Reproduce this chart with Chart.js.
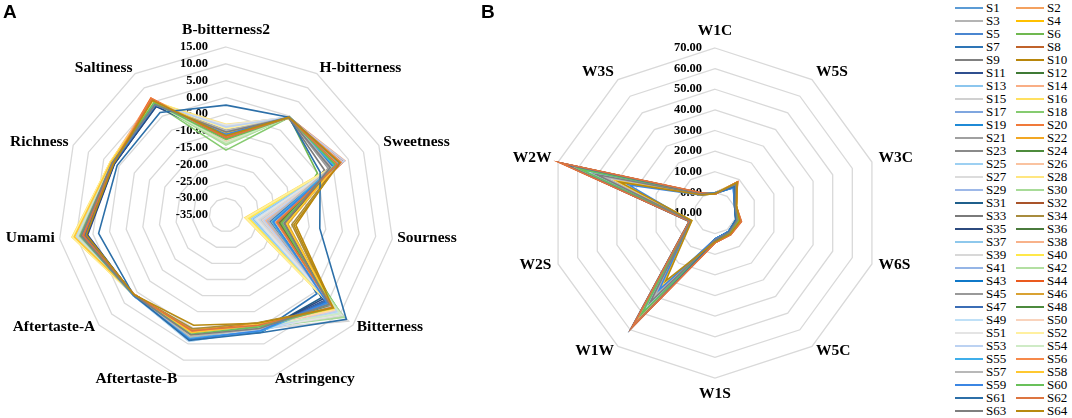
<!DOCTYPE html>
<html>
<head>
<meta charset="utf-8">
<script src="https://cdn.jsdelivr.net/npm/chart.js@4.4.1/dist/chart.umd.min.js"></script>
<style>
  html, body { margin: 0; padding: 0; background: #fff; }
  #wrap { position: relative; width: 1072px; height: 418px; overflow: hidden; }
  canvas { position: absolute; top: 0; }
  .panel { position: absolute; font: bold 19px "Liberation Sans", Arial, sans-serif; color: #000; }
  .item { position: absolute; height: 14px; display: flex; align-items: center;
          font: 13px "Liberation Serif", "Times New Roman", serif; color: #000; }
  .item span.ln { display: inline-block; width: 28px; height: 2px; margin-right: 3px; }
</style>
</head>
<body>
<div id="wrap">
  <canvas id="chartA" width="470" height="418" style="left:0"></canvas>
  <canvas id="chartB" width="480" height="418" style="left:470px"></canvas>
  <div class="panel" style="left:3px; top:1px">A</div>
  <div class="panel" style="left:481px; top:1px">B</div>
  <div id="legend"></div>
</div>
<script>
// ---- data ----
const categoriesA = ['B-bitterness2', 'H-bitterness', 'Sweetness', 'Sourness', 'Bitterness', 'Astringency',
  'Aftertaste-B', 'Aftertaste-A', 'Umami', 'Richness', 'Saltiness'];
const categoriesB = ['W1C', 'W5S', 'W3C', 'W6S', 'W5C', 'W1S', 'W1W', 'W2S', 'W2W', 'W3S'];
const ticksA = [-35, 15, 5];   // min, max, step
const ticksB = [-10, 70, 10];

const seriesNames = [];
for (let i = 1; i <= 64; i++) seriesNames.push('S' + i);

const seriesColors = [
  '#5B9BD5', '#F4A15F', '#B4B4B4', '#FFC000', '#4A86D0', '#70B850', '#2E75B6', '#C0632B',
  '#808080', '#B8860B', '#2F4F8F', '#3F7A35', '#8CC6EE', '#F9AE85', '#D0D0D0', '#FFE060',
  '#7FA6DF', '#86CB70', '#1F8AD6', '#F07A3A', '#A0A0A0', '#F2A724', '#8A8A8A', '#4D8B3C',
  '#9DD0F2', '#FAC3A0', '#DCDCDC', '#FFE680', '#9DB8E8', '#A8DB98', '#1F5F8B', '#A9542A',
  '#7A7A7A', '#A88C3E', '#2C4A7E', '#4A7A3C', '#8EC8EC', '#F8B28A', '#D8D8D8', '#FFE84A',
  '#95B5E6', '#B3DFA2', '#0F78C8', '#EA5A1E', '#999999', '#D9A233', '#3B6DB5', '#4C8A3E',
  '#BFE0F7', '#F9D3BC', '#E4E4E4', '#FFF0A0', '#BCD2F2', '#CFEBC6', '#3FAEEA', '#F6894A',
  '#B8B8B8', '#FFC830', '#3B86E3', '#69C05A', '#2C6FA8', '#DD7540', '#7F7F7F', '#B88A10'
];

// panel A, one array per taste axis, S1..S64
const aBBitterness2 = [-10.2, -11.5, -9.8, -10.6, -11.0, -12.3, -10.9, -11.8, -9.5, -10.1,
  -12.0, -11.2, -9.9, -13.2, -8.6, -8.9, -11.4, -15.7, -10.5, -12.6,
  -9.2, -10.8, -11.7, -12.1, -8.3, -13.5, -9.1, -8.0, -10.3, -14.2,
  -11.9, -12.8, -10.7, -11.1, -12.4, -11.6, -9.6, -13.0, -8.5, -9.4,
  -10.0, -13.8, -10.4, -12.2, -9.7, -11.3, -10.6, -12.7, -9.0, -12.9,
  -8.2, -9.3, -8.8, -13.4, -10.1, -11.9, -9.9, -10.7, -11.0, -12.5,
  -2.3, -12.0, -10.3, -11.4];
const aHBitterness = [-0.4, -0.6, -0.3, -0.5, -0.7, -0.2, -0.5, -0.6, -0.4, -0.8,
  -0.5, -0.3, -0.6, -0.4, -0.5, -0.7, -0.3, -0.6, -0.5, -0.4,
  -0.2, -0.6, -0.5, -0.7, -0.4, -0.3, -0.5, -0.6, -0.4, -0.2,
  -0.5, -0.7, -0.6, -0.4, -0.5, -0.3, -0.6, -0.5, -0.4, -0.7,
  -0.3, -0.5, -0.6, -0.4, -0.5, -0.8, -0.4, -0.3, -0.6, -0.5,
  -0.4, -0.7, -0.5, -0.3, -0.6, -0.4, -0.5, -0.7, -0.3, -0.6,
  -0.4, -0.5, -0.6, -0.4];
const aSweetness = [1.8, 2.6, 0.9, 3.1, 1.2, -5.1, 0.4, 2.2, -0.8, 1.5,
  -0.3, 2.9, 3.4, 3.9, 2.0, 1.1, 0.6, 3.2, 1.9, 2.4,
  -1.2, 0.8, 2.7, 1.6, 3.0, 3.6, 2.3, 1.4, 0.2, 2.8,
  1.0, 2.1, -2.8, 1.7, 0.5, 2.5, 3.3, 2.9, 1.3, 0.7,
  2.2, 1.8, 0.1, 3.5, -1.6, 1.2, 2.6, 0.9, 3.1, 2.0,
  1.5, 2.4, 3.7, 1.9, 0.3, 2.7, -0.5, 1.6, 2.1, 0.8,
  -4.2, 1.4, -0.9, 2.3];
const aSourness = [-21.5, -20.2, -18.4, -22.0, -19.6, -17.8, -20.8, -19.1, -17.2, -14.0,
  -21.0, -18.9, -26.8, -23.4, -24.6, -29.3, -22.6, -19.4, -20.5, -21.8,
  -18.0, -17.0, -19.8, -18.2, -27.5, -22.9, -25.4, -28.8, -23.8, -20.9,
  -19.3, -21.2, -18.7, -15.2, -20.1, -17.5, -24.2, -23.1, -25.0, -28.1,
  -22.4, -21.4, -20.6, -18.6, -17.9, -16.4, -21.9, -19.0, -26.2, -24.0,
  -25.8, -29.0, -23.6, -20.4, -21.1, -19.9, -22.2, -16.8, -20.7, -18.3,
  -6.8, -19.5, -17.4, -14.6];
const aBitterness = [5.8, 7.2, 6.4, 8.1, 4.9, 10.5, 0.8, 6.9, 5.2, 7.6,
  3.8, 6.1, 9.4, 8.6, 13.2, 7.9, 5.5, 11.0, 4.4, 6.7,
  6.0, 7.4, 5.1, 6.3, 9.9, 8.8, 12.9, 8.3, 9.1, 11.5,
  2.6, 6.6, 5.7, 7.0, 3.2, 6.2, 9.6, 8.0, 10.8, 7.7,
  8.9, 10.1, 4.6, 6.8, 5.9, 7.3, 4.1, 6.4, 9.2, 8.4,
  10.3, 7.8, 8.7, 9.8, 5.3, 7.1, 6.5, 7.5, 4.8, 7.0,
  12.4, 6.9, 5.6, 7.2];
const aAstringency = [0.2, -0.5, 0.6, -1.1, 0.9, -0.3, 1.3, -0.8, 0.4, -1.4,
  1.0, -0.2, 0.7, -0.9, 0.3, -1.2, 0.5, 0.0, 1.1, -0.6,
  0.8, -1.5, 0.1, -0.4, 0.6, -0.7, 0.2, -1.0, 0.9, -0.1,
  1.4, -0.9, 0.3, -1.6, 1.2, -0.3, 0.5, -0.8, 0.0, -1.3,
  0.7, -0.2, 1.0, -1.1, 0.4, -0.6, 1.3, -0.5, 0.8, -0.9,
  0.1, -1.2, 0.6, -0.4, 1.1, -0.7, 0.3, -1.0, 0.9, -0.3,
  1.5, -0.8, 0.2, -1.4];
const aAftertasteB = [2.1, 1.6, 2.9, 1.2, 2.4, 1.8, 3.5, 1.4, 2.6, 0.9,
  3.1, 1.7, 3.8, 1.3, 4.0, 2.2, 2.7, 1.9, 3.3, 1.1,
  2.5, 0.6, 2.0, 1.5, 4.2, 1.8, 3.6, 2.3, 3.9, 2.8,
  3.2, 1.0, 2.4, 0.3, 3.0, 1.6, 3.7, 1.4, 3.4, 2.1,
  3.9, 2.6, 3.1, 1.2, 2.3, 0.8, 3.5, 1.7, 4.1, 1.9,
  3.8, 2.5, 4.0, 2.9, 3.2, 1.3, 2.8, 1.5, 3.6, 2.0,
  3.9, 0.9, 2.2, -0.8];
const aAftertasteA = [1.3, 1.2, 1.4, 1.3, 1.5, 1.2, 1.4, 1.1, 1.3, 1.2,
  1.4, 1.3, 1.5, 1.2, 1.3, 1.4, 1.2, 1.3, 1.5, 1.1,
  1.3, 1.2, 1.4, 1.3, 1.5, 1.2, 1.3, 1.4, 1.2, 1.3,
  1.4, 1.1, 1.3, 1.2, 1.5, 1.3, 1.4, 1.2, 1.3, 1.4,
  1.2, 1.3, 1.5, 1.1, 1.3, 1.2, 1.4, 1.3, 1.5, 1.2,
  1.3, 1.4, 1.2, 1.3, 1.4, 1.1, 1.3, 1.2, 1.5, 1.3,
  1.4, 1.2, 1.3, 1.2];
const aUmami = [9.0, 8.2, 9.6, 10.8, 7.5, 8.7, 6.9, 7.8, 8.4, 7.1,
  6.6, 8.0, 9.8, 10.1, 9.3, 11.3, 8.9, 9.1, 7.7, 8.5,
  9.4, 10.4, 8.1, 7.9, 9.7, 10.0, 9.5, 11.0, 9.2, 9.9,
  7.2, 8.3, 8.6, 7.4, 6.8, 8.8, 9.6, 10.2, 9.0, 10.9,
  9.3, 9.7, 8.0, 7.6, 8.9, 9.4, 7.3, 8.4, 10.3, 9.8,
  9.5, 11.1, 9.9, 9.6, 8.6, 8.2, 9.1, 10.6, 8.7, 8.8,
  3.3, 7.9, 8.5, 7.0];
const aRichness = [2.3, 2.1, 2.5, 2.7, 1.9, 2.2, 1.6, 2.0, 2.4, 1.8,
  1.5, 2.1, 2.6, 2.8, 2.4, 2.9, 2.2, 2.3, 1.9, 2.0,
  2.5, 2.7, 2.1, 2.0, 2.6, 2.7, 2.5, 2.9, 2.3, 2.4,
  1.7, 2.0, 2.2, 1.9, 1.6, 2.1, 2.5, 2.6, 2.4, 2.8,
  2.3, 2.5, 2.0, 1.9, 2.2, 2.4, 1.8, 2.1, 2.6, 2.5,
  2.4, 2.9, 2.6, 2.5, 2.2, 2.0, 2.3, 2.7, 2.1, 2.2,
  0.6, 2.0, 2.3, 1.8];
const aSaltiness = [4.6, 6.4, 4.2, 5.3, 3.9, 4.8, 3.5, 5.7, 4.1, 5.0,
  3.7, 4.9, 4.4, 6.1, 4.0, 5.5, 4.3, 4.7, 3.8, 6.2,
  4.1, 5.4, 4.5, 4.6, 4.3, 5.9, 4.2, 5.1, 4.4, 4.8,
  3.6, 5.8, 4.0, 5.2, 3.4, 4.7, 4.5, 6.0, 4.1, 5.3,
  4.3, 4.9, 3.8, 6.3, 4.2, 5.6, 3.9, 4.8, 4.4, 5.7,
  4.1, 5.0, 4.6, 4.9, 4.0, 6.1, 4.3, 5.4, 4.2, 4.7,
  1.3, 5.9, 4.0, 5.5];

// panel B, one array per sensor, S1..S64
const bW1C = [-0.6, -0.3, -0.8, -0.5, -0.2, -0.7, -0.4, -0.9, -0.5, -0.3,
  -0.6, -0.4, -0.7, -0.2, -0.5, -0.8, -0.3, -0.6, -0.4, -0.9,
  -0.5, -0.7, -0.3, -0.6, -0.4, -0.8, -0.2, -0.5, -0.7, -0.3,
  -0.6, -0.9, -0.4, -0.5, -0.3, -0.7, -0.6, -0.2, -0.8, -0.4,
  -0.5, -0.3, -0.7, -0.9, -0.4, -0.6, -0.2, -0.5, -0.8, -0.3,
  -0.6, -0.4, -0.7, -0.5, -0.3, -0.8, -0.4, -0.6, -0.2, -0.7,
  -0.5, -0.9, -0.4, -0.6];
const bW5S = [7.8, 8.3, 7.4, 8.0, 6.9, 7.6, 5.2, 8.5, 7.2, 8.1,
  6.5, 7.7, 7.9, 8.2, 7.3, 8.4, 7.0, 7.5, 6.2, 8.6,
  7.4, 8.0, 7.1, 7.8, 7.6, 8.3, 7.2, 8.1, 7.5, 7.9,
  5.8, 8.4, 7.3, 8.2, 6.7, 7.7, 7.9, 8.3, 7.4, 8.0,
  7.1, 7.6, 5.5, 8.5, 7.0, 8.2, 6.4, 7.8, 7.7, 8.1,
  7.5, 8.0, 7.3, 7.9, 6.8, 8.4, 7.2, 8.3, 5.0, 7.8,
  6.0, 8.6, 7.1, 8.2];
const bW3C = [0.4, 0.7, 0.3, 0.6, 0.2, 0.5, 0.0, 0.8, 0.4, 0.6,
  0.1, 0.5, 0.3, 0.7, 0.4, 0.9, 0.2, 0.5, 0.1, 0.8,
  0.3, 0.6, 0.4, 0.5, 0.3, 0.7, 0.2, 0.8, 0.4, 0.6,
  0.0, 0.7, 0.3, 0.9, 0.2, 0.5, 0.4, 0.7, 0.3, 0.6,
  0.2, 0.5, 0.1, 0.8, 0.3, 0.7, 0.1, 0.5, 0.4, 0.6,
  0.3, 0.8, 0.4, 0.5, 0.2, 0.7, 0.3, 0.9, 0.1, 0.6,
  0.0, 0.8, 0.3, 1.0];
const bW6S = [1.6, 2.4, 1.2, 2.0, 1.0, 1.8, 0.6, 2.8, 1.4, 2.2,
  0.8, 1.7, 1.3, 2.5, 1.5, 2.1, 1.1, 1.9, 0.7, 3.0,
  1.4, 2.3, 1.2, 1.8, 1.3, 2.6, 1.5, 2.0, 1.6, 1.9,
  0.7, 3.2, 1.3, 2.7, 0.9, 1.8, 1.5, 2.4, 1.2, 2.1,
  1.1, 1.7, 0.8, 3.4, 1.3, 2.5, 0.9, 1.9, 1.6, 2.2,
  1.4, 2.0, 1.5, 1.8, 1.0, 2.9, 1.2, 2.3, 0.7, 1.9,
  0.6, 3.5, 1.3, 2.6];
const bW5C = [1.8, 2.4, 1.5, 2.1, 1.3, 2.0, 1.1, 2.7, 1.6, 2.3,
  1.2, 1.9, 1.7, 2.5, 1.6, 2.2, 1.4, 2.0, 1.2, 2.8,
  1.7, 2.3, 1.5, 2.0, 1.6, 2.6, 1.8, 2.1, 1.7, 2.0,
  1.1, 2.9, 1.5, 2.6, 1.3, 1.9, 1.7, 2.4, 1.5, 2.2,
  1.4, 1.9, 1.2, 3.0, 1.5, 2.5, 1.3, 2.0, 1.8, 2.3,
  1.6, 2.1, 1.7, 1.9, 1.3, 2.7, 1.5, 2.4, 1.2, 2.0,
  1.4, 3.0, 1.6, 2.5];
const bW1S = [3.2, 3.9, 2.8, 3.6, 2.6, 3.4, 3.0, 4.2, 3.1, 3.7,
  2.7, 3.3, 3.5, 4.0, 3.2, 3.8, 2.9, 3.4, 2.5, 4.3,
  3.3, 3.9, 3.0, 3.5, 3.4, 4.1, 3.2, 3.7, 3.3, 3.6,
  2.8, 4.4, 3.1, 4.0, 2.6, 3.5, 3.4, 3.9, 3.0, 3.8,
  3.2, 3.4, 2.7, 4.5, 3.0, 4.1, 2.9, 3.6, 3.5, 3.8,
  3.3, 3.7, 3.4, 3.5, 2.8, 4.2, 3.1, 3.9, 2.7, 3.6,
  3.6, 4.5, 3.0, 4.0];
const bW1W = [48.5, 55.2, 44.0, 50.8, 42.6, 49.7, 53.0, 57.4, 46.2, 52.1,
  40.8, 47.9, 45.3, 54.6, 43.1, 51.5, 41.7, 48.8, 50.2, 57.9,
  44.7, 53.3, 39.6, 49.1, 46.8, 55.8, 42.3, 52.7, 45.9, 50.4,
  51.6, 58.1, 43.8, 54.0, 48.0, 47.3, 44.4, 56.3, 41.2, 53.8,
  45.6, 49.4, 52.4, 58.5, 38.2, 55.0, 47.0, 46.5, 42.9, 51.0,
  36.4, 32.0, 44.9, 48.2, 49.9, 56.9, 40.1, 34.5, 36.0, 50.6,
  59.2, 58.8, 43.5, 30.8];
const bW2S = [2.6, 2.9, 2.4, 2.7, 2.3, 2.6, 2.8, 3.0, 2.5, 2.8,
  2.2, 2.6, 2.5, 2.9, 2.4, 2.7, 2.3, 2.6, 2.7, 3.1,
  2.4, 2.8, 2.2, 2.6, 2.5, 2.9, 2.3, 2.8, 2.5, 2.7,
  2.7, 3.0, 2.4, 2.9, 2.6, 2.5, 2.4, 3.0, 2.3, 2.8,
  2.5, 2.6, 2.7, 3.1, 2.1, 2.9, 2.5, 2.5, 2.3, 2.7,
  2.0, 1.9, 2.4, 2.6, 2.6, 3.0, 2.2, 2.0, 2.5, 2.7,
  3.2, 3.1, 2.4, 1.8];
const bW2W = [56.4, 64.8, 51.2, 59.7, 49.5, 57.8, 60.3, 67.2, 53.9, 62.0,
  47.3, 55.6, 52.8, 64.1, 50.0, 60.9, 48.4, 56.9, 58.1, 68.0,
  51.7, 62.6, 45.9, 57.2, 54.5, 65.3, 49.0, 61.8, 53.3, 58.8,
  59.5, 67.9, 50.6, 63.5, 55.9, 55.1, 51.9, 66.1, 47.8, 63.0,
  53.0, 57.5, 61.2, 68.5, 44.2, 64.6, 54.8, 54.1, 49.8, 59.9,
  41.6, 37.8, 52.2, 56.2, 58.4, 66.8, 46.5, 40.2, 34.0, 59.1,
  67.0, 68.9, 50.4, 38.5];
const bW3S = [1.4, 1.8, 1.2, 1.6, 1.1, 1.5, 1.3, 2.0, 1.3, 1.7,
  1.0, 1.4, 1.2, 1.9, 1.3, 1.6, 1.1, 1.5, 1.4, 2.1,
  1.2, 1.7, 1.0, 1.5, 1.3, 1.8, 1.1, 1.7, 1.3, 1.6,
  1.4, 2.0, 1.2, 1.8, 1.4, 1.5, 1.2, 1.9, 1.0, 1.7,
  1.3, 1.5, 1.5, 2.1, 0.9, 1.8, 1.3, 1.4, 1.1, 1.6,
  0.8, 0.7, 1.2, 1.5, 1.5, 1.9, 1.0, 0.9, 0.6, 1.6,
  1.8, 2.2, 1.2, 0.8];

const axesA = [aBBitterness2, aHBitterness, aSweetness, aSourness, aBitterness, aAstringency,
  aAftertasteB, aAftertasteA, aUmami, aRichness, aSaltiness];
const axesB = [bW1C, bW5S, bW3C, bW6S, bW5C, bW1S, bW1W, bW2S, bW2W, bW3S];

// ---- drawing ----
function buildDatasets(axes) {
  return seriesNames.map((name, j) => ({
    label: name,
    data: axes.map(a => a[j]),
    borderColor: seriesColors[j],
    backgroundColor: seriesColors[j],
    borderWidth: 1.6,
    pointRadius: 0,
    fill: false,
    tension: 0,
    order: seriesNames.length - j   // later series on top, as in the original
  }));
}

// tick labels left of the vertical axis, under the lines
const tickText = {
  id: 'tickText',
  beforeDatasetsDraw(chart, args, opts) {
    const s = chart.scales.r, ctx = chart.ctx;
    ctx.save();
    ctx.fillStyle = '#000';
    ctx.font = 'bold 12.5px "Liberation Serif", serif';
    ctx.textAlign = 'right';
    ctx.textBaseline = 'middle';
    s.ticks.forEach(t => {
      const d = s.getDistanceFromCenterForValue(t.value);
      ctx.fillText(t.value.toFixed(2), s.xCenter - opts.gap, s.yCenter - d);
    });
    ctx.restore();
  }
};

// category labels round the web
const axisText = {
  id: 'axisText',
  afterDraw(chart, args, opts) {
    const s = chart.scales.r, ctx = chart.ctx;
    ctx.save();
    ctx.fillStyle = '#000';
    ctx.font = 'bold 15.5px "Liberation Serif", serif';
    ctx.textBaseline = 'middle';
    chart.data.labels.forEach((lab, i) => {
      const p = s.getPointPosition(i, s.drawingArea + opts.pad);
      const dx = p.x - s.xCenter, dy = p.y - s.yCenter;
      if (Math.abs(dx) < 1) {
        ctx.textAlign = 'center';
        ctx.fillText(lab, s.xCenter, dy < 0 ? s.yCenter - s.drawingArea - 17 : s.yCenter + s.drawingArea + 15.5);
      } else {
        ctx.textAlign = dx > 0 ? 'left' : 'right';
        ctx.fillText(lab, p.x, p.y - 1.5);
      }
    });
    ctx.restore();
  }
};

function makeRadar(id, labels, axes, tk, padding, labelPad, gap) {
  return new Chart(document.getElementById(id), {
    type: 'radar',
    data: { labels: labels, datasets: buildDatasets(axes) },
    options: {
      responsive: false,
      animation: false,
      layout: { padding: padding },
      elements: { line: { borderJoinStyle: 'miter' } },
      scales: {
        r: {
          min: tk[0], max: tk[1],
          beginAtZero: false,
          ticks: { stepSize: tk[2], display: false },
          grid: { color: '#D9D9D9', lineWidth: 1.3, circular: false },
          angleLines: { display: false },
          pointLabels: { display: false }
        }
      },
      plugins: {
        legend: { display: false },
        tooltip: { enabled: false },
        tickText: { gap: gap },
        axisText: { pad: labelPad }
      }
    },
    plugins: [tickText, axisText]
  });
}

makeRadar('chartA', categoriesA, axesA, ticksA, { left: 58, top: 47, right: 76, bottom: 35 }, 5, 18);
makeRadar('chartB', categoriesB, axesB, ticksB, { left: 80, top: 48, right: 69, bottom: 39 }, 7, 13);

// legend: two columns, S1 S2 / S3 S4 ...
const legend = document.getElementById('legend');
seriesNames.forEach((name, j) => {
  const row = Math.floor(j / 2), col = j % 2;
  const it = document.createElement('div');
  it.className = 'item';
  it.style.left = (col ? 1016 : 955) + 'px';
  it.style.top = (8.3 + 13 * row - 7) + 'px';
  const ln = document.createElement('span');
  ln.className = 'ln';
  ln.style.background = seriesColors[j];
  it.appendChild(ln);
  it.appendChild(document.createTextNode(name));
  legend.appendChild(it);
});
</script>
</body>
</html>
